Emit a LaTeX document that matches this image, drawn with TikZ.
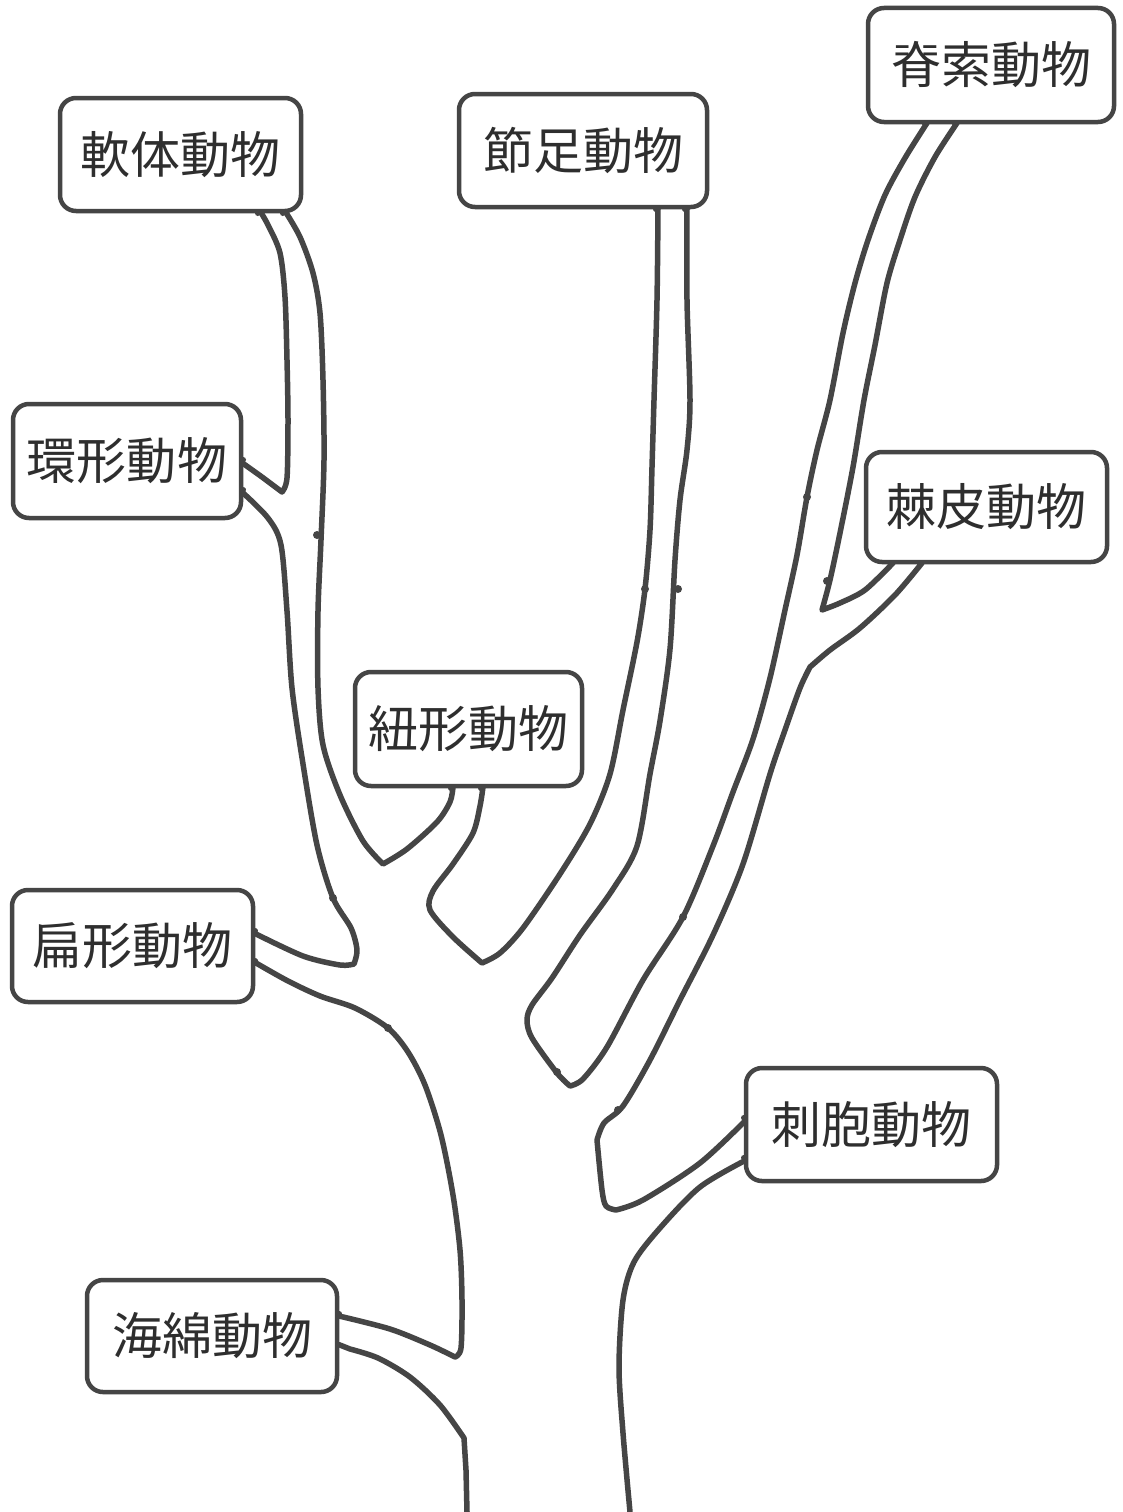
\documentclass[tikz,border=0pt]{standalone}
\usepackage{fontspec}
\newfontfamily\jp{Noto Sans CJK JP}
\pgfdeclarelayer{bg}
\pgfsetlayers{bg,main}
\definecolor{ink}{HTML}{454545}
\definecolor{txt}{HTML}{2e2e2e}
\tikzset{
  lbl/.style={draw=ink, line width=4.5pt, rounded corners=16pt, fill=white, inner sep=0pt,
    font=\jp\fontsize{50}{50}\selectfont, text=txt},
  br/.style={draw=ink, line width=5.5pt, line join=round, line cap=round},
  jn/.style={fill=ink},
}
\begin{document}
\begin{tikzpicture}[x=1pt,y=-1pt]
\useasboundingbox (0,0) rectangle (1122,1512);
% boxes
\node[lbl, minimum width=241pt, minimum height=113pt] (nan)   at (180.5,154.5) {軟体動物};
\node[lbl, minimum width=228pt, minimum height=114pt] (kan)   at (127,461)     {環形動物};
\node[lbl, minimum width=248pt, minimum height=113pt] (set)   at (583,150.5)   {節足動物};
\node[lbl, minimum width=246pt, minimum height=114pt] (seki)  at (991,65)      {脊索動物};
\node[lbl, minimum width=241pt, minimum height=110pt] (kyoku) at (986.5,507)   {棘皮動物};
\node[lbl, minimum width=227pt, minimum height=114pt] (hi)    at (468.5,729)   {紐形動物};
\node[lbl, minimum width=241pt, minimum height=112pt] (hen)   at (132.5,946)   {扁形動物};
\node[lbl, minimum width=251pt, minimum height=113pt] (shi)   at (871.5,1124.5){刺胞動物};
\node[lbl, minimum width=250pt, minimum height=112pt] (kai)   at (212,1336)    {海綿動物};
\begin{pgfonlayer}{bg}
\fill[white] (0,0) rectangle (1122,1512);
% left trunk to sponge
\draw[br] (467,1512) -- plot[smooth] coordinates {(466,1470) (464,1438)}
  -- plot[smooth] coordinates {(464,1438) (440,1405) (410,1377) (378,1358) (350,1349)}
  -- ([yshift=-67pt]kai.north east);
% sponge upper to flatworm lower
\draw[br] ([yshift=-36pt]kai.north east)
  -- plot[smooth] coordinates {(339,1316) (390,1329) (430,1345) (455,1357)}
  -- plot[smooth] coordinates {(455,1357) (461,1348) (462,1300) (460,1250) (453,1195) (441,1135) (425,1085) (408,1052) (388,1028) (355,1008) (320,996) (288,981) (256,963)}
  -- ([yshift=-73pt]hen.north east);
% flatworm upper to annelid lower
\draw[br] ([yshift=-43pt]hen.north east)
  -- plot[smooth] coordinates {(254,933) (303,956) (340,965) (354,964)}
  -- plot[smooth] coordinates {(354,964) (357,950) (351,928) (333,898) (317,845) (303,764) (292,688) (287,611) (281,545) (268,518) (242,492)}
  -- ([yshift=-88pt]kan.north east);
% annelid upper to mollusc
\draw[br] ([yshift=-58pt]kan.north east)
  -- plot[smooth] coordinates {(241,462) (262,477) (282,492)}
  -- plot[smooth] coordinates {(282,492) (287,478) (288,420) (287,360) (285,297) (280,253) (268,225) (260,211)}
  -- ([xshift=200pt]nan.south west);
% mollusc right to nemertea
\draw[br] ([xshift=225pt]nan.south west)
  -- plot[smooth] coordinates {(285,211) (300,237) (313,273) (320,313) (323,380) (324,460) (321,540) (318,611) (318,688) (323,745) (340,795) (363,841) (383,864)}
  -- plot[smooth] coordinates {(383,864) (407,849) (437,822) (450,802) (453,787)}
  -- ([xshift=98pt]hi.south west);
% nemertea right to arthropod left
\draw[br] ([xshift=128pt]hi.south west)
  -- plot[smooth] coordinates {(483,787) (480,806) (473,833) (453,864) (433,891) (430,910) (453,937) (482,963)}
  -- plot[smooth] coordinates {(482,963) (500,953) (523,928) (560,874) (590,824) (610,774) (623,710) (637,642) (645,589) (650,530) (652,467) (654,400) (657,300) (658,208)}
  -- ([xshift=199pt]set.south west);
% arthropod right to chordate left
\draw[br] ([xshift=228pt]set.south west)
  -- plot[smooth] coordinates {(687,208) (687,300) (690,400) (687,450) (680,500) (675,560) (670,649) (660,721) (650,774) (637,846) (613,889) (580,935) (552,978) (532,1005) (527,1020) (532,1038) (557,1073) (570,1086)}
  -- plot[smooth] coordinates {(570,1086) (583,1079) (607,1047) (643,980) (683,917) (713,846) (733,792) (753,739) (770,678) (785,610) (797,555) (807,497) (817,450) (830,400) (843,333) (855,283) (868,240) (885,195) (905,158) (927,123)}
  -- ([xshift=59pt]seki.south west);
% chordate right to echinoderm left
\draw[br] ([xshift=89pt]seki.south west)
  -- plot[smooth] coordinates {(957,123) (935,157) (915,197) (900,240) (887,283) (875,345) (864,400) (853,467) (840,533) (830,580) (822,610)}
  -- plot[smooth] coordinates {(822,610) (840,603) (865,590) (893,563)}
  -- ([xshift=27pt]kyoku.south west);
% echinoderm right to cnidarian upper
\draw[br] ([xshift=56pt]kyoku.south west)
  -- plot[smooth] coordinates {(922,563) (895,595) (860,628) (830,650) (810,667)}
  -- plot[smooth] coordinates {(810,667) (800,688) (785,730) (770,774) (743,864) (713,935) (680,1000) (650,1060) (623,1106) (604,1123) (597,1140)}
  -- plot[smooth] coordinates {(597,1140) (602,1190) (606,1206) (616,1210)}
  -- plot[smooth] coordinates {(616,1210) (643,1200) (700,1163) (746,1120)}
  -- ([yshift=-52pt]shi.north west);
% cnidarian lower to right trunk
\draw[br] ([yshift=-92pt]shi.north west)
  -- plot[smooth] coordinates {(746,1160) (700,1187) (660,1228) (634,1262) (623,1300) (619,1367) (623,1433) (630,1512)};
% small joint marks
\foreach \p in {(317,535),(333,898),(388,1028),(807,497),(683,917),(618,1110),(645,589),(678,589),(827,581),(557,1072)}
  \fill[jn] \p circle (4);
\end{pgfonlayer}
\end{tikzpicture}
\end{document}
